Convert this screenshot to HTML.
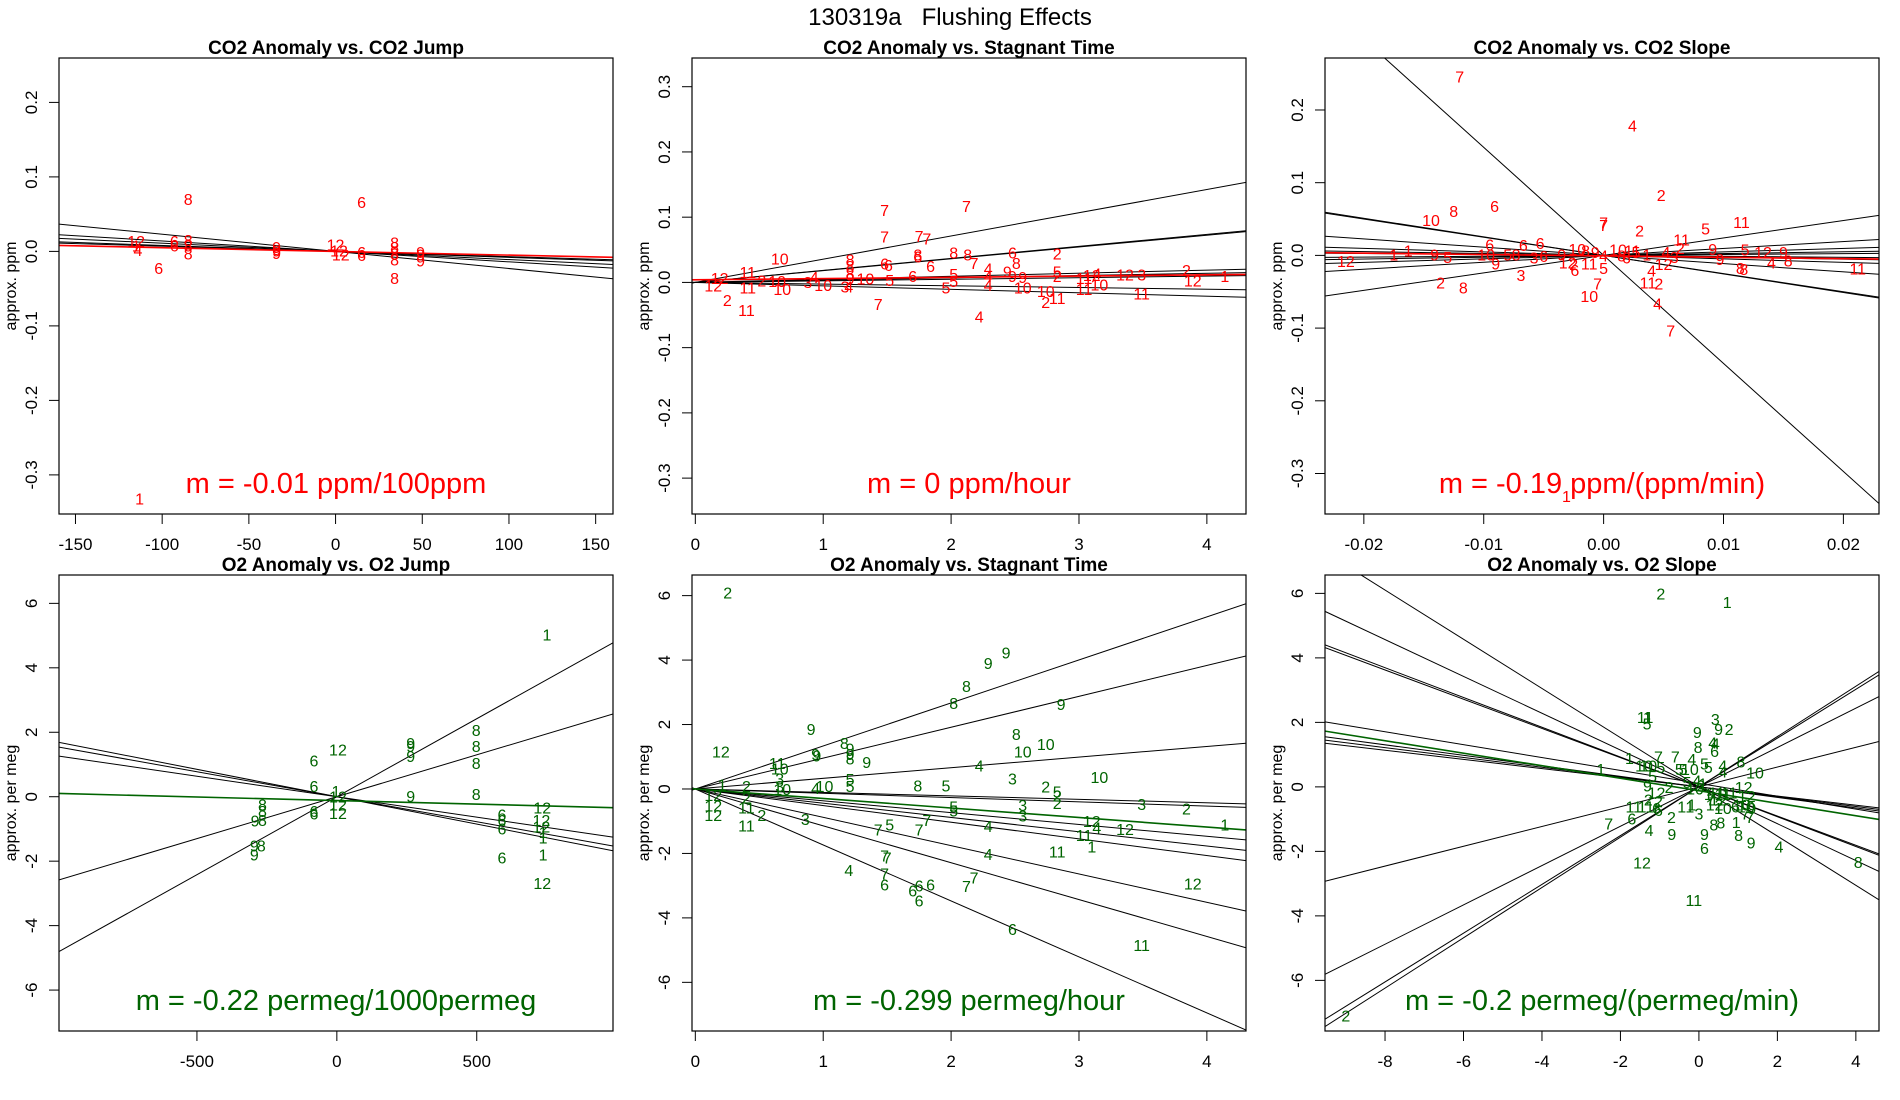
<!DOCTYPE html>
<html><head><meta charset="utf-8"><style>
body{margin:0;background:#fff;}
svg{display:block;font-family:"Liberation Sans",Arial,sans-serif;}
</style></head><body>
<svg id="fig" width="1900" height="1100" viewBox="0 0 1900 1100">
<rect width="1900" height="1100" fill="#fff"/>
<text x="950" y="25" text-anchor="middle" font-size="24" style="white-space:pre">130319a   Flushing Effects</text>
</svg>
<script>
// ---------- Panel 1: CO2 Anomaly vs CO2 Jump ----------
const p1Labels=['8','6','12','1','4','6','6','8','8','8','6','9','9','9','12','12','12','6','6','8','8','8','8','8','9','9','9','1'];
const p1X=[-85,15,-115,-115,-114,-93,-93,-85,-85,-85,-102,-34,-34,-34,0,2,3,15,15,34,34,34,34,34,49,49,49,-113];
const p1Y=[0.070,0.066,0.014,0.008,0.002,0.014,0.008,0.015,0.008,-0.003,-0.022,0.006,0.001,-0.002,0.009,0.001,-0.004,-0.001,-0.005,0.012,0.006,-0.003,-0.011,-0.036,-0.001,-0.004,-0.012,-0.332];
const p1Slopes=[-0.00023,-0.00014,-0.00011,-0.00008,-0.00007];
const p1Ints=[0,0,0,0,0];
const p1MeanSlope=-0.00005, p1MeanInt=0;
const p1XTicks=[-150,-100,-50,0,50,100,150];
const p1YTicks=[-0.3,-0.2,-0.1,0.0,0.1,0.2];
const p1YTickLabels=['-0.3','-0.2','-0.1','0.0','0.1','0.2'];

// ---------- Panel 2: CO2 Anomaly vs Stagnant Time ----------
const p2Labels=['7','7','7','7','7','10','8','8','8','6','6','8','6','8','8','7','6','6','8','2','4','9','9','9','4','4','5','5','5','6','5','10','10','10','2','11','5','2','11','11','12','4','10','12','3','11','2','12','1','4','7','2','11','11','11','2','12','12','10','10','3','4','10','3','4','9'];
const p2X=[1.48,2.12,1.48,1.75,1.81,0.66,1.21,1.21,1.21,1.48,1.51,1.74,1.74,2.02,2.13,2.18,1.84,2.48,2.51,2.83,2.29,2.44,2.48,2.56,2.29,2.29,2.02,2.02,1.96,1.70,1.52,1.33,2.56,2.74,2.74,2.83,2.83,2.83,3.04,3.04,3.10,3.14,3.16,3.36,3.49,3.49,3.84,3.89,4.14,2.22,1.43,0.25,0.40,0.41,0.41,0.52,0.14,0.19,0.64,0.68,0.88,0.93,1.0,1.17,1.20,1.21];
const p2Y=[0.111,0.117,0.070,0.071,0.067,0.037,0.035,0.025,0.014,0.029,0.027,0.043,0.040,0.046,0.043,0.030,0.025,0.046,0.030,0.044,0.021,0.017,0.010,0.008,0.010,-0.004,0.013,0.002,-0.008,0.010,0.004,0.006,-0.008,-0.013,-0.030,-0.024,0.017,0.010,0.007,-0.010,0.011,0.014,-0.003,0.012,0.012,-0.017,0.019,0.003,0.010,-0.052,-0.033,-0.027,-0.042,-0.008,0.016,0.003,-0.005,0.007,0.002,-0.010,0.001,0.008,-0.004,-0.006,-0.006,0.006];
const p2Slopes=[0.0356,0.0181,0.0184,0.0047,0.0035,0.0024,-0.0026,-0.0053];
const p2Ints=[0,0,0,0,0,0,0,0];
const p2MeanSlope=0.0019, p2MeanInt=0.004;
const p2XTicks=[0,1,2,3,4];
const p2YTicks=[-0.3,-0.2,-0.1,0.0,0.1,0.2,0.3];
const p2YTickLabels=['-0.3','-0.2','-0.1','0.0','0.1','0.2','0.3'];

// ---------- Panel 3: CO2 Anomaly vs CO2 Slope ----------
const p3Labels=['7','4','2','7','7','2','11','5','11','2','10','8','6','6','6','6','1','1','12','9','5','9','2','8','3','7','10','4','7','11','2','4','12','9','9','5','12','9','4','8','8','8','11','6','5','1','10','5','8','3','6','9','10','8','9','4','10','8','6','11','5','1','4','3','12','11','2'];
const p3X=[-0.0120,0.0024,0.0048,0.0,0.0,0.003,0.0115,0.0085,0.0065,0.0064,-0.0144,-0.0125,-0.0091,-0.0095,-0.0067,-0.0053,-0.0175,-0.0163,-0.0215,-0.0141,-0.013,-0.009,-0.0136,-0.0117,-0.0069,-0.0005,-0.0012,0.0045,0.0056,0.0037,0.0046,0.004,0.005,0.0091,0.0097,0.0118,0.0133,0.015,0.014,0.0154,0.0114,0.0117,0.0212,-0.0024,0.0,-0.0031,-0.0098,-0.008,-0.0073,-0.0058,-0.005,-0.0035,-0.0022,-0.0015,-0.0007,0.0,0.0012,0.0015,0.0019,0.0024,0.0027,0.0036,0.0052,0.0059,-0.003,-0.0012,-0.0025];
const p3Y=[0.246,0.179,0.083,0.045,0.042,0.034,0.046,0.037,0.022,0.010,0.049,0.061,0.068,0.015,0.014,0.017,0.001,0.007,-0.008,0.001,-0.002,-0.011,-0.037,-0.044,-0.027,-0.039,-0.056,-0.066,-0.103,-0.037,-0.039,-0.021,-0.012,0.009,-0.005,0.008,0.005,0.005,-0.010,-0.007,-0.017,-0.019,-0.018,-0.020,-0.017,-0.331,0.001,0.001,0.001,-0.003,-0.001,0.001,0.009,0.007,0.005,0.0,0.008,0.0,-0.003,0.007,0.005,0.001,0.005,-0.002,-0.010,-0.011,-0.012];
const p3Slopes=[-14.86,-2.55,-2.5,-1.13,-0.48,-0.26,-0.13,0.12,0.25,0.48,0.95,2.4];
const p3Ints=[0,0,0,0,0,0,0,0,0,0,0,0];
const p3MeanSlope=-0.19, p3MeanInt=-0.0007;
const p3XTicks=[-0.02,-0.01,0,0.01,0.02];
const p3XTickLabels=['-0.02','-0.01','0.00','0.01','0.02'];
const p3YTicks=[-0.3,-0.2,-0.1,0.0,0.1,0.2];
const p3YTickLabels=['-0.3','-0.2','-0.1','0.0','0.1','0.2'];

// ---------- Panel 4: O2 Anomaly vs O2 Jump ----------
const p4Labels=['1','8','8','8','8','9','9','9','9','12','6','6','6','6','1','12','12','12','8','8','8','9','9','8','9','6','6','6','6','12','12','12','1','1','1','12'];
const p4X=[751,498,498,498,498,264,264,264,264,4,-82,-82,-82,-82,-3,4,4,4,-266,-266,-266,-292,-295,-270,-295,590,590,590,590,734,731,731,737,737,737,734];
const p4Y=[5.04,2.07,1.57,1.05,0.08,1.66,1.58,1.27,0.02,1.46,1.13,0.33,-0.44,-0.52,0.17,0,-0.24,-0.50,-0.24,-0.44,-0.72,-0.74,-1.52,-1.52,-1.80,-0.55,-0.72,-0.98,-1.88,-0.33,-0.72,-0.92,-1.09,-1.27,-1.80,-2.68];
const p4Slopes=[-0.0017,-0.00155,-0.00127,0.0026,0.00484];
const p4Ints=[0,0,0,0,0];
const p4MeanSlope=-0.000222, p4MeanInt=-0.12;
const p4XTicks=[-500,0,500];
const p4YTicks=[-6,-4,-2,0,2,4,6];

// ---------- Panel 5: O2 Anomaly vs Stagnant Time ----------
const p5Labels=['2','12','9','9','8','8','9','9','8','9','9','8','9','9','9','8','10','10','11','10','3','3','10','4','10','5','5','8','5','4','3','10','2','5','2','2','3','3','3','2','1','12','4','12','11','1','11','4','4','5','5','7','7','5','7','3','4','7','7','7','6','6','6','6','6','7','7','6','12','11','2','2','11','11','2','12','12','1','12'];
const p5X=[0.253,0.2,2.43,2.29,2.12,2.02,2.86,0.905,1.165,1.21,1.21,1.21,1.34,0.94,0.95,2.51,2.56,2.74,0.64,0.66,0.66,0.66,0.68,0.94,1.01,1.21,1.21,1.74,1.96,2.22,2.48,3.16,2.74,2.83,2.83,2.83,2.56,2.56,3.49,3.84,4.14,3.10,3.14,3.36,3.04,3.10,2.83,2.29,2.29,2.02,2.02,1.81,1.75,1.52,1.43,0.86,1.20,1.48,1.50,1.48,1.48,1.70,1.75,1.84,1.75,2.18,2.12,2.48,3.89,3.49,0.40,0.40,0.40,0.40,0.52,0.14,0.14,0.21,0.14];
const p5Y=[6.09,1.17,4.24,3.91,3.19,2.67,2.64,1.86,1.42,1.25,1.09,0.95,0.84,1.09,1.04,1.70,1.17,1.40,0.81,0.64,0.33,0.09,0,0.03,0.09,0.31,0.09,0.11,0.11,0.73,0.33,0.37,0.07,-0.08,-0.21,-0.43,-0.50,-0.83,-0.47,-0.60,-1.10,-0.99,-1.19,-1.24,-1.43,-1.79,-1.94,-1.15,-2.02,-0.55,-0.66,-0.96,-1.26,-1.10,-1.26,-0.93,-2.52,-2.07,-2.13,-2.63,-2.96,-3.15,-2.99,-2.96,-3.46,-2.74,-3.01,-4.34,-2.93,-4.84,0.09,-0.27,-0.58,-1.13,-0.80,-0.52,-0.80,0.14,-0.19];
const p5Slopes=[1.335,0.958,0.330,-0.107,-0.133,-0.367,-0.442,-0.516,-0.879,-1.144,-1.737];
const p5Ints=[0,0,0,0,0,0,0,0,0,0,0];
const p5MeanSlope=-0.295, p5MeanInt=0;
const p5XTicks=[0,1,2,3,4];
const p5YTicks=[-6,-4,-2,0,2,4,6];

// ---------- Panel 6: O2 Anomaly vs O2 Slope ----------
const p6Labels=['2','1','11','1','5','3','9','2','9','4','4','8','6','8','10','1','1','10','10','7','7','4','5','5','5','10','5','5','4','4','5','12','9','12','2','2','2','11','11','6','6','1','1','1','2','3','7','6','4','9','8','8','1','8','9','6','9','4','8','12','11','2','11','11','11','12','12','10','6','10','10','12','7','7','9','7','1','1','4','2','10','5'];
const p6X=[-0.97,0.72,-1.37,-1.31,-1.32,0.42,0.5,0.77,-0.04,0.35,0.42,-0.02,0.4,1.07,1.43,-2.5,-1.77,-1.4,-1.29,-1.03,-0.6,-0.18,-0.97,-0.5,-0.4,-0.23,0.14,0.24,0.61,0.61,-1.18,1.14,-1.31,-1.08,-0.76,-1.29,-1.03,-1.66,-1.35,-1.08,-1.03,-0.44,-0.23,-0.18,-0.7,0,-2.3,-1.71,-1.27,-0.69,0.38,0.56,0.95,1.01,0.14,0.14,1.33,2.04,4.06,-1.45,-0.13,-9.0,0.45,0.61,0.77,0.5,0.4,0.61,0.93,1.09,1.2,1.22,0.3,1.3,1.35,1.18,0.24,0.1,-0.05,0.05,-0.1,-0.3];
const p6Y=[6.0,5.73,2.16,2.16,1.97,2.1,1.8,1.8,1.70,1.38,1.35,1.24,1.11,0.78,0.44,0.55,0.89,0.66,0.66,0.94,0.94,0.86,0.61,0.55,0.55,0.55,0.72,0.61,0.66,0.47,0.33,0,0.05,-0.17,0,-0.39,-0.44,-0.61,-0.61,-0.66,-0.72,-0.61,-0.61,-0.55,-0.94,-0.83,-1.14,-0.98,-1.33,-1.46,-1.16,-1.11,-1.09,-1.5,-1.46,-1.9,-1.72,-1.85,-2.33,-2.35,-3.51,-7.09,-0.17,-0.22,-0.17,-0.39,-0.55,-0.66,-0.61,-0.55,-0.61,-0.28,-0.39,-0.94,-0.66,-0.83,-0.22,0.1,0.2,0.05,-0.05,0.15];
const p6Slopes=[-0.763,-0.571,-0.462,-0.453,-0.200,-0.163,-0.152,-0.142,0.307,0.61,0.756,0.78];
const p6Ints=[0,0,0,0,0.11,0,0,0,0,0,0,0];
const p6MeanSlope=-0.194, p6MeanInt=-0.12;
const p6XTicks=[-8,-6,-4,-2,0,2,4];
const p6YTicks=[-6,-4,-2,0,2,4,6];

const NS='http://www.w3.org/2000/svg';
const svg=document.getElementById('fig');
function mk(tag,attrs,parent){const e=document.createElementNS(NS,tag);for(const k in attrs)e.setAttribute(k,attrs[k]);(parent||svg).appendChild(e);return e;}

function panel(cfg){
  const L=cfg.left,T=cfg.top,W=554,H=456;
  const sx=v=>L+(v-cfg.xlim[0])/(cfg.xlim[1]-cfg.xlim[0])*W;
  const sy=v=>T+H-(v-cfg.ylim[0])/(cfg.ylim[1]-cfg.ylim[0])*H;
  const g=mk('g',{});
  
  
  const cid='clip-'+cfg.name;
  const cp=mk('clipPath',{id:cid},g);mk('rect',{x:L,y:T,width:W,height:H},cp);
  const t=mk('text',{x:L+W/2,y:T-4,'text-anchor':'middle','font-size':19,'font-weight':'bold'},g);
  t.textContent=cfg.title;
  
  
  const yl=mk('text',{transform:`translate(${L-43},${T+H/2}) rotate(-90)`,'text-anchor':'middle','font-size':16},g);
  yl.textContent=cfg.ylabel;
  
  
  cfg.xticks.forEach((v,i)=>{
    const x=sx(v);
    const tk=mk('line',{x1:x,x2:x,y1:T+H,y2:T+H+10,stroke:'#000','stroke-width':1},g);
    
    
    const lb=mk('text',{x:x,y:T+H+36,'text-anchor':'middle','font-size':17},g);
    lb.textContent=cfg.xtl?cfg.xtl[i]:String(v);
    
    
  });
  cfg.yticks.forEach((v,i)=>{
    const y=sy(v);
    const tk=mk('line',{x1:L-10,x2:L,y1:y,y2:y,stroke:'#000','stroke-width':1},g);
    
    
    const lb=mk('text',{transform:`translate(${L-22},${y}) rotate(-90)`,'text-anchor':'middle','font-size':17},g);
    lb.textContent=cfg.ytl?cfg.ytl[i]:String(v);
    
    
  });
  const cg=mk('g',{'clip-path':`url(#${cid})`},g);
  cfg.slopes.forEach((m,i)=>{
    const b=cfg.ints[i];
    const x0=cfg.xlim[0],x1=cfg.xlim[1];
    const ln=mk('line',{x1:sx(x0),y1:sy(b+m*x0),x2:sx(x1),y2:sy(b+m*x1),stroke:'#000','stroke-width':1},cg);
    
    
  });
  {
    const x0=cfg.xlim[0],x1=cfg.xlim[1];
    const ln=mk('line',{x1:sx(x0),y1:sy(cfg.mb+cfg.ms*x0),x2:sx(x1),y2:sy(cfg.mb+cfg.ms*x1),stroke:cfg.color,'stroke-width':1.6},cg);
    
    
  }
  cfg.labels.forEach((s,i)=>{
    const p=mk('text',{x:sx(cfg.xs[i]),y:sy(cfg.ys[i])+6,'text-anchor':'middle','font-size':16,fill:cfg.color},cg);
    p.textContent=s;
    
    
  });
  const an=mk('text',{x:L+W/2,y:T+435,'text-anchor':'middle','font-size':29,fill:cfg.color},g);
  an.textContent=cfg.annot;
  
  
  const bx=mk('rect',{x:L,y:T,width:W,height:H,fill:'none',stroke:'#000','stroke-width':1.2},g);
  
  
}

const RED='#ff0000',GREEN='#006400';
panel({name:'panel-co2-jump',left:59,top:58,xlim:[-159.5,160],ylim:[-0.3525,0.2596],title:'CO2 Anomaly vs. CO2 Jump',ylabel:'approx. ppm',xticks:p1XTicks,yticks:p1YTicks,ytl:p1YTickLabels,slopes:p1Slopes,ints:p1Ints,ms:p1MeanSlope,mb:p1MeanInt,labels:p1Labels,xs:p1X,ys:p1Y,color:RED,annot:'m = -0.01 ppm/100ppm'});
panel({name:'panel-co2-stagnant',left:692,top:58,xlim:[-0.026,4.306],ylim:[-0.355,0.344],title:'CO2 Anomaly vs. Stagnant Time',ylabel:'approx. ppm',xticks:p2XTicks,yticks:p2YTicks,ytl:p2YTickLabels,slopes:p2Slopes,ints:p2Ints,ms:p2MeanSlope,mb:p2MeanInt,labels:p2Labels,xs:p2X,ys:p2Y,color:RED,annot:'m = 0 ppm/hour'});
panel({name:'panel-co2-slope',left:1325,top:58,xlim:[-0.02324,0.02297],ylim:[-0.3557,0.2715],title:'CO2 Anomaly vs. CO2 Slope',ylabel:'approx. ppm',xticks:p3XTicks,xtl:p3XTickLabels,yticks:p3YTicks,ytl:p3YTickLabels,slopes:p3Slopes,ints:p3Ints,ms:p3MeanSlope,mb:p3MeanInt,labels:p3Labels,xs:p3X,ys:p3Y,color:RED,annot:'m = -0.19 ppm/(ppm/min)'});
panel({name:'panel-o2-jump',left:59,top:575,xlim:[-993,987],ylim:[-7.27,6.88],title:'O2 Anomaly vs. O2 Jump',ylabel:'approx. per meg',xticks:p4XTicks,yticks:p4YTicks,slopes:p4Slopes,ints:p4Ints,ms:p4MeanSlope,mb:p4MeanInt,labels:p4Labels,xs:p4X,ys:p4Y,color:GREEN,annot:'m = -0.22 permeg/1000permeg'});
panel({name:'panel-o2-stagnant',left:692,top:575,xlim:[-0.026,4.306],ylim:[-7.51,6.64],title:'O2 Anomaly vs. Stagnant Time',ylabel:'approx. per meg',xticks:p5XTicks,yticks:p5YTicks,slopes:p5Slopes,ints:p5Ints,ms:p5MeanSlope,mb:p5MeanInt,labels:p5Labels,xs:p5X,ys:p5Y,color:GREEN,annot:'m = -0.299 permeg/hour'});
panel({name:'panel-o2-slope',left:1325,top:575,xlim:[-9.53,4.59],ylim:[-7.57,6.57],title:'O2 Anomaly vs. O2 Slope',ylabel:'approx. per meg',xticks:p6XTicks,yticks:p6YTicks,slopes:p6Slopes,ints:p6Ints,ms:p6MeanSlope,mb:p6MeanInt,labels:p6Labels,xs:p6X,ys:p6Y,color:GREEN,annot:'m = -0.2 permeg/(permeg/min)'});
</script>
</body></html>
